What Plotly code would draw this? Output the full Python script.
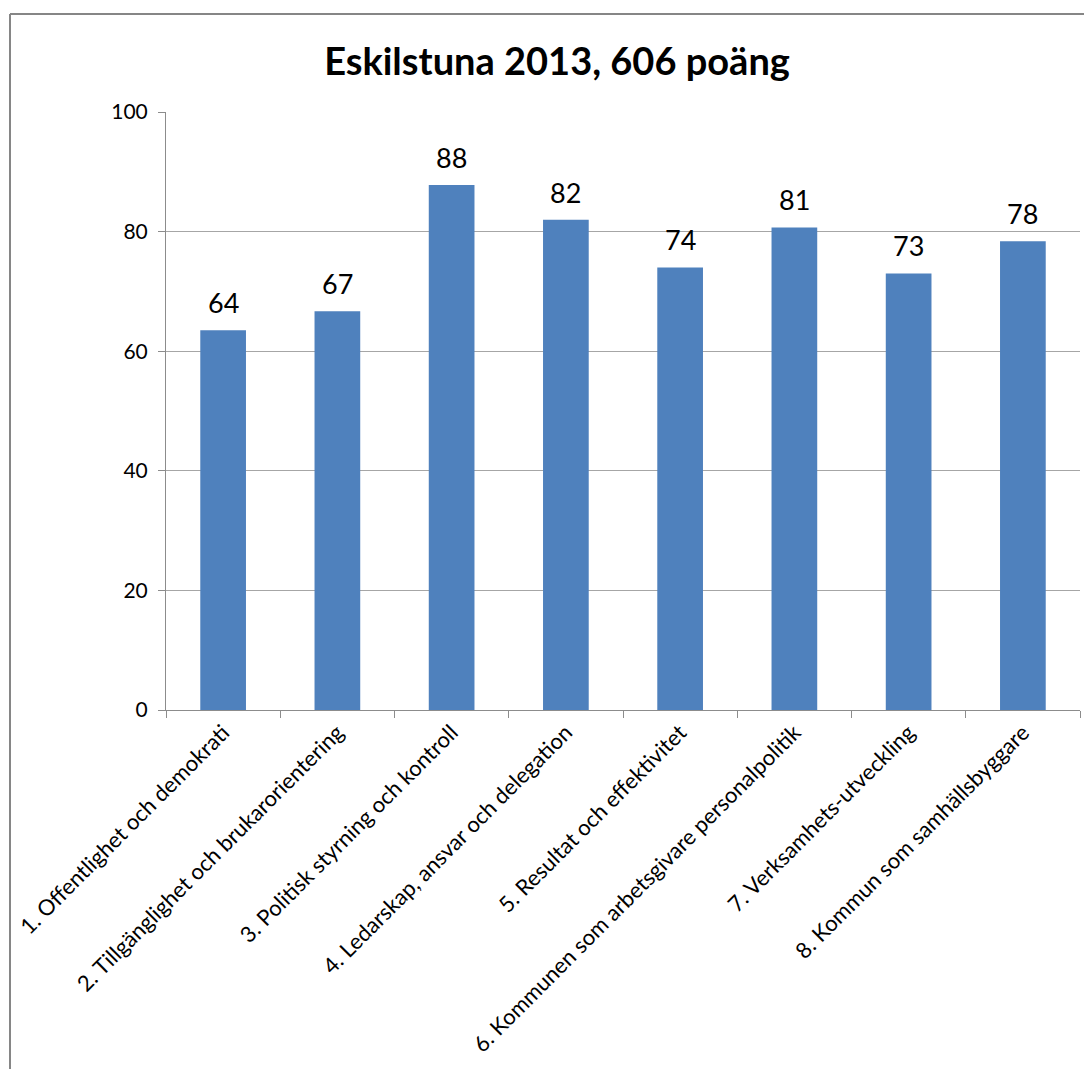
import plotly.graph_objects as go

categories = [
    "1. Offentlighet och demokrati",
    "2. Tillgänglighet och brukarorientering",
    "3. Politisk styrning och kontroll",
    "4. Ledarskap, ansvar och delegation",
    "5. Resultat och effektivitet",
    "6. Kommunen som arbetsgivare personalpolitik",
    "7. Verksamhets-utveckling",
    "8. Kommun som samhällsbyggare",
]
values = [63.5, 66.7, 87.8, 82.0, 74.0, 80.7, 73.0, 78.4]
labels = ["64", "67", "88", "82", "74", "81", "73", "78"]
title = "Eskilstuna 2013, 606 poäng"

# page body has an 8px offset; compensate
OFF = 8
W, H = 1092 - OFF, 1069 - OFF
L = 166 - OFF
T = 112 - OFF
R = W - (1080 - OFF)
B = H - (710 - OFF)
pw = W - L - R
ph = H - T - B

FONT = "Lato, Liberation Sans, sans-serif"

fig = go.Figure(go.Bar(
    x=categories, y=values,
    marker=dict(color="#4F81BD", line=dict(width=0)),
    width=0.4, cliponaxis=False,
))

for c, v, t in zip(categories, values, labels):
    fig.add_annotation(x=c, y=v, text=t, showarrow=False,
                       yanchor="bottom", yshift=9,
                       font=dict(size=27, color="#000000", family=FONT))

grey = "#8c8c8c"
fig.update_layout(
    width=W, height=H,
    margin=dict(l=L, r=R, t=T, b=B, autoexpand=False),
    paper_bgcolor="white", plot_bgcolor="white",
    font=dict(family=FONT, color="#000000"),
    title=dict(text="<b>" + title + "</b>", x=(557 - OFF) / W, xanchor="center",
               y=1 - (62 - OFF) / H, yanchor="middle",
               font=dict(size=38, family=FONT)),
    showlegend=False,
    bargap=0.6,
)
fig.update_xaxes(
    tickangle=-45, tickfont=dict(size=22), automargin=False,
    showline=True, linecolor=grey, linewidth=1,
    ticks="outside", ticklen=7, tickcolor=grey, tickson="boundaries",
    showgrid=False,
)
fig.update_yaxes(
    range=[0, 100], dtick=20, tickfont=dict(size=21), automargin=False,
    showline=True, linecolor=grey, linewidth=1,
    ticks="outside", ticklen=7, tickcolor=grey,
    ticklabelstandoff=6,
    showgrid=True, gridcolor="#a6a6a6", gridwidth=1,
    zeroline=False,
)

# chart border (left and top, as visible in reference)
bx = (10 - OFF - L) / pw
by = 1 + (T - (14 - OFF)) / ph
fig.add_shape(type="line", xref="paper", yref="paper",
              x0=bx, x1=bx, y0=by, y1=-1.0,
              line=dict(color="#868686", width=2))
fig.add_shape(type="line", xref="paper", yref="paper",
              x0=bx, x1=1.2, y0=by, y1=by,
              line=dict(color="#868686", width=2))

fig.write_html("out.html")
